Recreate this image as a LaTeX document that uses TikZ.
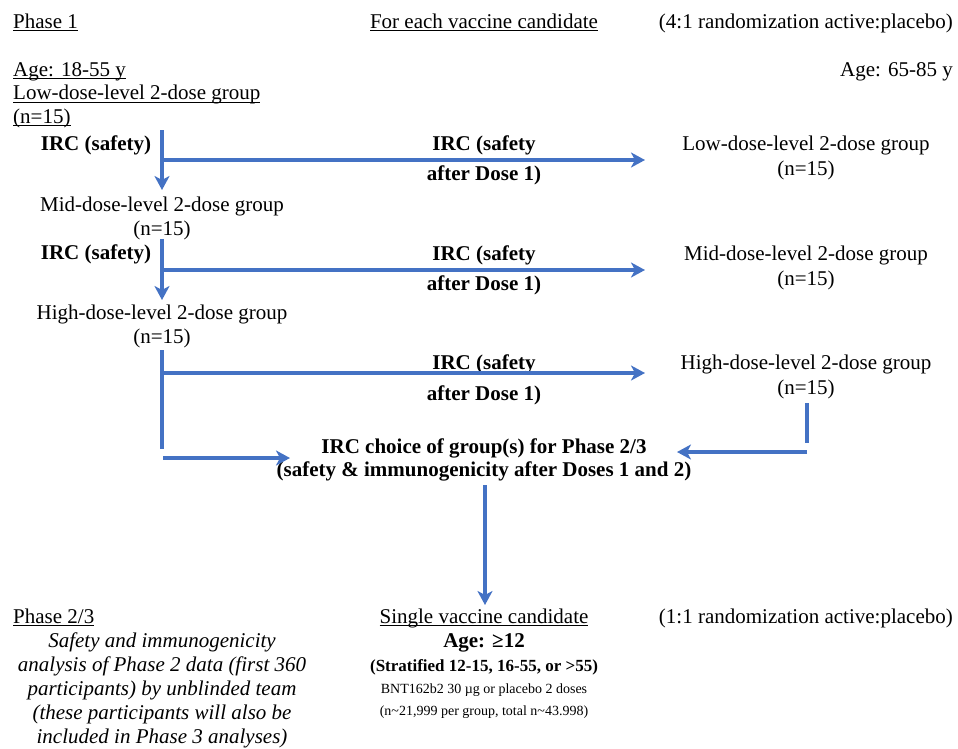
\documentclass[tikz,border=0pt]{standalone}
\usepackage{fontspec}
\setmainfont{Liberation Serif}
\usepackage{tikz}
\usetikzlibrary{arrows.meta,positioning}
\definecolor{flowblue}{RGB}{68,114,196}
\newsavebox{\ulinebox}
\newcommand{\ulined}[1]{\sbox{\ulinebox}{#1}%
  \rlap{\rule[-3pt]{\wd\ulinebox}{1pt}}\usebox{\ulinebox}}

\begin{document}
\begin{tikzpicture}[x=1pt,y=-1pt,
                    txt/.style={inner sep=0pt,align=center,
                                font=\fontsize{21}{25}\selectfont},
                    boldtxt/.style={inner sep=0pt,align=center,
                                    font=\fontsize{21}{30}\selectfont\bfseries},
                    flow/.style={flowblue,line width=4pt},
                    arr/.style={flow,-{Stealth[length=14pt,width=15pt,inset=4pt]}}]
  \useasboundingbox (0,0) rectangle (958,748);

  % header
  \node[txt,anchor=base west] (phaseone) at (13,28) {\ulined{Phase 1}};
  \node[txt,anchor=base] (eachcand) at (484,28) {\ulined{For each vaccine candidate}};
  \node[txt,anchor=base east] (randfour) at (953,28) {(4:1 randomization active:placebo)};
  \node[txt,anchor=base west] (ageyoung) at (13,76) {\ulined{Age: 18-55 y}};
  \node[txt,anchor=base east] (ageold) at (953,76) {Age: 65-85 y};

  % younger cohort (left column); base = last line
  \node[txt,anchor=base west,align=left,font=\fontsize{21}{23.5}\selectfont]
    (lowyoung) at (13,123) {\ulined{Low-dose-level 2-dose group}\\\ulined{(n=15)}};
  \node[boldtxt,anchor=base] (ircone) at (96,150) {IRC (safety)};
  \node[txt,anchor=base,font=\fontsize{21}{24}\selectfont]
    (midyoung) at (162,235) {Mid-dose-level 2-dose group\\(n=15)};
  \node[boldtxt,anchor=base] (irctwo) at (96,259) {IRC (safety)};
  \node[txt,anchor=base,font=\fontsize{21}{23.5}\selectfont]
    (highyoung) at (162,343) {High-dose-level 2-dose group\\(n=15)};

  % dose-1 review labels
  \node[boldtxt,anchor=base] (revlow) at (484,180) {IRC (safety\\after Dose 1)};
  \node[boldtxt,anchor=base] (revmid) at (484,290) {IRC (safety\\after Dose 1)};
  \node[boldtxt,anchor=base,font=\fontsize{21}{31}\selectfont\bfseries]
    (revhigh) at (484,400) {IRC (safety\\after Dose 1)};

  % older cohort (right column)
  \node[txt,anchor=base] (lowold) at (806,175) {Low-dose-level 2-dose group\\(n=15)};
  \node[txt,anchor=base] (midold) at (806,285) {Mid-dose-level 2-dose group\\(n=15)};
  \node[txt,anchor=base] (highold) at (806,394) {High-dose-level 2-dose group\\(n=15)};

  % choice for phase 2/3
  \node[boldtxt,anchor=base,font=\fontsize{21}{23}\selectfont\bfseries] (choice) at (484,476)
    {IRC choice of group(s) for Phase 2/3\\(safety \& immunogenicity after Doses 1 and 2)};

  % phase 2/3
  \node[txt,anchor=base west] (phasetwo) at (13,623) {\ulined{Phase 2/3}};
  \node[txt,anchor=base,font=\fontsize{21}{24}\selectfont\itshape] (analysis) at (162,743)
    {Safety and immunogenicity\\analysis of Phase 2 data (first 360\\participants) by unblinded team\\(these participants will also be\\included in Phase 3 analyses)};
  \node[txt,anchor=base] (single) at (484,623) {\ulined{Single vaccine candidate}};
  \node[boldtxt,anchor=base] (agetwelve) at (484,647) {Age: ≥12};
  \node[boldtxt,anchor=base,font=\fontsize{17}{20}\selectfont\bfseries]
    (strata) at (484,671) {(Stratified 12-15, 16-55, or >55)};
  \node[txt,anchor=base,font=\fontsize{14}{22}\selectfont] (dosing) at (484,715)
    {BNT162b2 30 µg or placebo 2 doses\\(n\textasciitilde 21,999 per group, total n\textasciitilde 43.998)};
  \node[txt,anchor=base east] (randone) at (953,623) {(1:1 randomization active:placebo)};

  % connector end points
  \coordinate (dropone) at (162,130);
  \coordinate (downone) at (162,190);
  \coordinate (branchone) at (162,160);
  \coordinate (tipone) at (645,160);
  \coordinate (droptwo) at (162,239);
  \coordinate (downtwo) at (162,300);
  \coordinate (branchtwo) at (162,270);
  \coordinate (tiptwo) at (645,270);
  \coordinate (dropthree) at (162,350);
  \coordinate (endthree) at (162,449);
  \coordinate (branchthree) at (162,373);
  \coordinate (tipthree) at (645,373);
  \coordinate (feedleft) at (163,458);
  \coordinate (intoleft) at (290,458);
  \coordinate (dropright) at (807,403);
  \coordinate (cornerright) at (807,443);
  \coordinate (feedright) at (807,452);
  \coordinate (intoright) at (677,452);
  \coordinate (selstart) at (485,485);
  \coordinate (selend) at (485,605);

  % connectors
  \draw[arr] (dropone) -- (downone);
  \draw[arr] (branchone) -- (tipone);
  \draw[arr] (droptwo) -- (downtwo);
  \draw[arr] (branchtwo) -- (tiptwo);
  \draw[flow] (dropthree) -- (endthree);
  \draw[arr] (branchthree) -- (tipthree);
  \draw[arr] (feedleft) -- (intoleft);
  \draw[flow] (dropright) -- (cornerright);
  \draw[arr] (feedright) -- (intoright);
  \draw[arr] (selstart) -- (selend);
\end{tikzpicture}
\end{document}
